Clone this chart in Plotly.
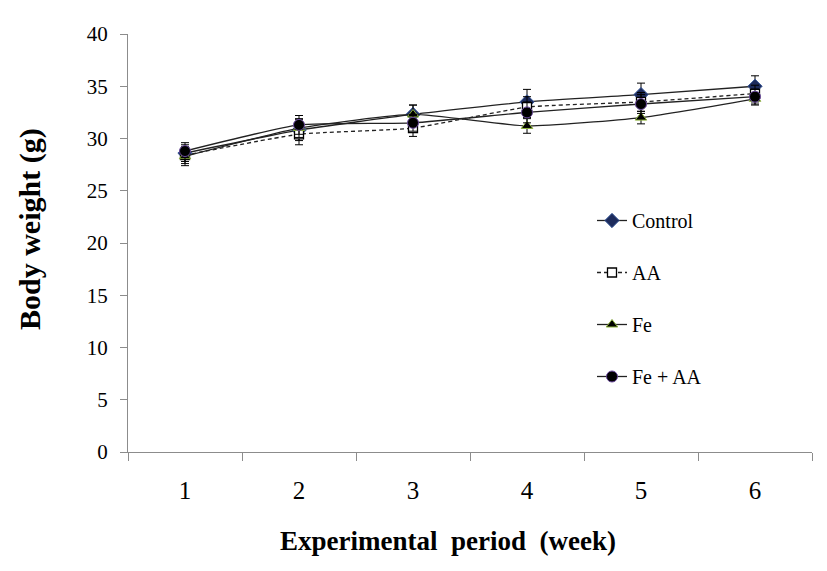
import plotly.graph_objects as go

weeks = [1, 2, 3, 4, 5, 6]
week_labels = ["1", "2", "3", "4", "5", "6"]

control = [28.6, 30.8, 32.3, 33.5, 34.2, 35.0]
control_err = [0.8, 1.0, 0.9, 1.2, 1.1, 1.0]
aa = [28.4, 30.4, 31.0, 33.0, 33.5, 34.3]
aa_err = [0.8, 1.0, 0.8, 1.0, 0.9, 0.8]
fe = [28.3, 31.0, 32.3, 31.2, 32.0, 33.8]
fe_err = [0.9, 0.9, 0.9, 0.7, 0.6, 0.6]
fe_aa = [28.8, 31.3, 31.5, 32.5, 33.3, 34.0]
fe_aa_err = [0.8, 0.9, 0.8, 1.0, 0.9, 0.7]

yticks = [0, 5, 10, 15, 20, 25, 30, 35, 40]

SERIF = "Liberation Serif, Times New Roman, serif"

series = [
    ("Control", control, control_err, dict(symbol="diamond", size=11, color="#1d2b5c", line=dict(color="#3a5a9a", width=1)), "solid"),
    ("AA", aa, aa_err, dict(symbol="square", size=9, color="white", line=dict(color="black", width=1.3)), "4px,3px"),
    ("Fe", fe, fe_err, dict(symbol="triangle-up", size=10, color="black", line=dict(color="#8db33a", width=1)), "solid"),
    ("Fe + AA", fe_aa, fe_aa_err, dict(symbol="circle", size=11, color="black", line=dict(color="#6b4a9e", width=1)), "solid"),
]

fig = go.Figure()
for i, (name, vals, errs, marker, dash) in enumerate(series):
    fig.add_trace(go.Scatter(
        x=weeks, y=vals, name=name, mode="lines+markers",
        line=dict(color="#222222", width=1.3, dash=dash, shape="spline", smoothing=0.5),
        marker=marker,
        error_y=dict(type="data", array=errs, visible=True, color="black", thickness=1, width=4),
        legendgroup=f"g{i}",
    ))

W, H = 819, 563
L, R, T, B = 120, 15, 26, 119
PW, PH = W - L - R, H - T - B

fig.update_layout(
    width=W, height=H,
    margin=dict(l=L, r=R, t=T, b=B),
    paper_bgcolor="white", plot_bgcolor="white",
    font=dict(family=SERIF, color="black"),
    showlegend=True,
    legend=dict(
        x=(584 - L) / PW, y=(444 - 193) / PH, xanchor="left", yanchor="top",
        font=dict(family=SERIF, size=20, color="black"),
        tracegroupgap=23, bgcolor="rgba(0,0,0,0)",
    ),
    xaxis=dict(
        range=[0.5, 6.5], tickmode="array", tickvals=weeks, ticktext=week_labels,
        ticks="", showgrid=False, zeroline=False,
        showline=True, linecolor="#8c8c8c", linewidth=1.3,
        tickfont=dict(family=SERIF, size=25, color="black"),
        ticklabelstandoff=16,
        minor=dict(ticks="outside", tick0=0.5, dtick=1, ticklen=8, tickcolor="#8c8c8c", tickwidth=1.3, showgrid=False),
    ),
    yaxis=dict(
        range=[0, 40], tickmode="array", tickvals=yticks,
        ticks="outside", ticklen=7, tickcolor="#8c8c8c", tickwidth=1.3,
        showgrid=False, zeroline=False,
        showline=True, linecolor="#8c8c8c", linewidth=1.3,
        tickfont=dict(family=SERIF, size=21, color="black"),
        ticklabelstandoff=8,
    ),
    annotations=[
        dict(text="<b>Experimental  period  (week)</b>", xref="paper", yref="paper",
             x=(440 - L) / PW, y=-(533 - 444) / PH, xanchor="center", yanchor="middle",
             showarrow=False, font=dict(family=SERIF, size=27, color="black")),
        dict(text="<b>Body weight (g)</b>", xref="paper", yref="paper",
             x=-(L - 22) / PW, y=(444 - 221) / PH, xanchor="center", yanchor="middle",
             textangle=-90, showarrow=False, font=dict(family=SERIF, size=30, color="black")),
    ],
)

fig.write_html("out.html")
